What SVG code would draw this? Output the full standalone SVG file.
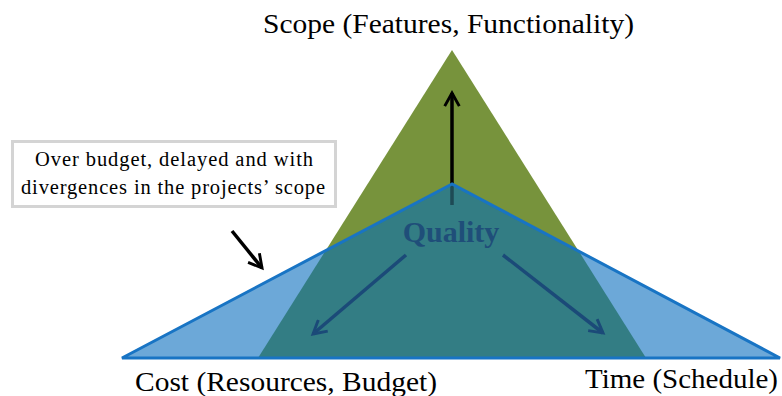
<svg xmlns="http://www.w3.org/2000/svg" width="782" height="396" viewBox="0 0 782 396">
<style>
.lbl{font-family:"Liberation Serif","Times New Roman",serif;fill:#000}
</style>
<defs>
<marker id="hkb" viewBox="0 0 12 12" refX="10" refY="6" markerWidth="5" markerHeight="5" orient="auto" markerUnits="strokeWidth">
<path d="M1,1 L10,6 L1,11" fill="none" stroke="#000" stroke-width="2"/>
</marker>
<marker id="hkd" viewBox="0 0 12 12" refX="10" refY="6" markerWidth="5" markerHeight="5" orient="auto" markerUnits="strokeWidth">
<path d="M1,1 L10,6 L1,11" fill="none" stroke="#1B4A78" stroke-width="2"/>
</marker>
</defs>
<rect width="782" height="396" fill="#fff"/>
<g id="scope-triangle">
<polygon points="452,50 258,358 646,358" fill="#77933C"/>
</g>
<g id="connectors-up">
<line x1="452" y1="205" x2="452" y2="93" stroke="#000" stroke-width="3.5" marker-end="url(#hkb)"/>
</g>
<g id="cost-time-triangle">
<polygon points="452,184 122,358 780,358" fill="#6CA8D8"/>
<polygon points="452,184 325.6,250.6 258,358 646,358 578.4,250.6" fill="#337D84"/>
<line x1="452" y1="184" x2="452" y2="205" stroke="#1E4A55" stroke-width="3.5"/>
<polygon points="452,184 122,358 780,358" fill="none" stroke="#1874C4" stroke-width="3"/>
</g>
<g id="quality">
<text x="451" y="242" text-anchor="middle" font-family="Liberation Serif, Times New Roman, serif" font-weight="bold" font-size="30" fill="#1F4E79">Quality</text>
</g>
<g id="connectors">
<line x1="406" y1="255" x2="313" y2="334" stroke="#1B4A78" stroke-width="3.5" marker-end="url(#hkd)"/>
<line x1="503" y1="255" x2="603" y2="333" stroke="#1B4A78" stroke-width="3.5" marker-end="url(#hkd)"/>
<line x1="232" y1="231" x2="262" y2="268" stroke="#000" stroke-width="3.5" marker-end="url(#hkb)"/>
</g>
<g id="note">
<rect x="12.5" y="141.5" width="323" height="65" fill="#fff" stroke="#D4D4D4" stroke-width="3"/>
<text class="lbl" x="174" y="166" text-anchor="middle" font-size="20.5" textLength="278" lengthAdjust="spacing">Over budget, delayed and with</text>
<text class="lbl" x="173" y="194" text-anchor="middle" font-size="20.5" textLength="304" lengthAdjust="spacing">divergences in the projects’ scope</text>
</g>
<g id="scope-label">
<text class="lbl" x="448.5" y="33" text-anchor="middle" font-size="27.5" textLength="371" lengthAdjust="spacingAndGlyphs">Scope (Features, Functionality)</text>
</g>
<g id="cost-label">
<text class="lbl" x="286" y="391" text-anchor="middle" font-size="27.5" textLength="302" lengthAdjust="spacingAndGlyphs">Cost (Resources, Budget)</text>
</g>
<g id="time-label">
<text class="lbl" x="681.5" y="388" text-anchor="middle" font-size="27.5" textLength="193" lengthAdjust="spacingAndGlyphs">Time (Schedule)</text>
</g>
</svg>
